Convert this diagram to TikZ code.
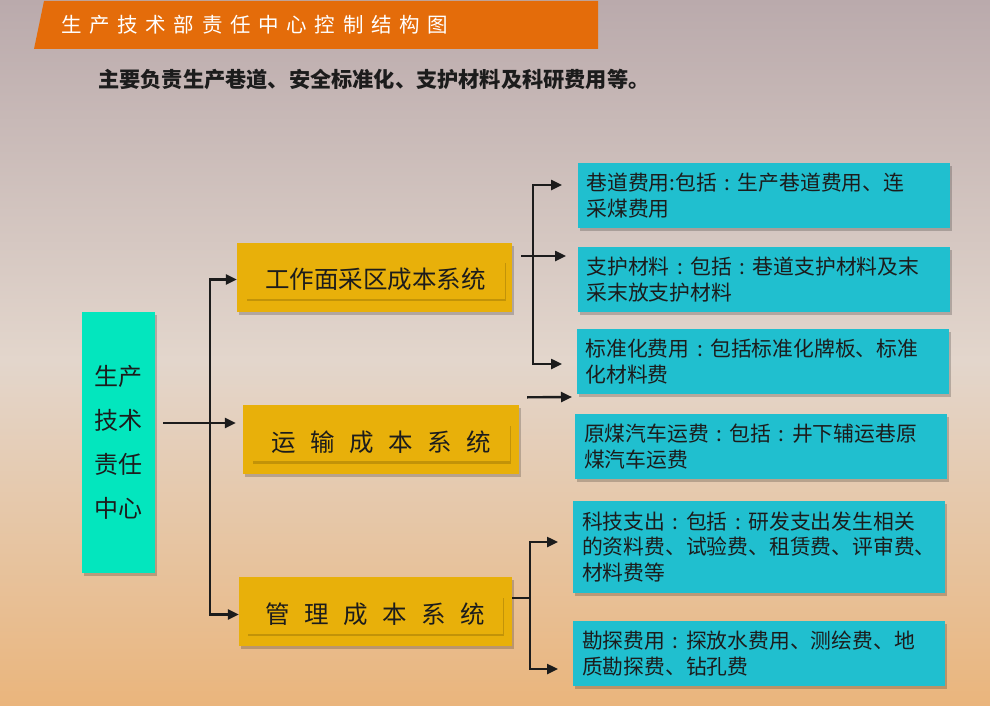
\documentclass[tikz,border=0pt]{standalone}
\usepackage{fontspec}
\setmainfont{Noto Sans CJK SC}
\usetikzlibrary{arrows.meta,shadows}
\definecolor{banner}{HTML}{E46C0A}
\definecolor{gold}{HTML}{E8B00A}
\definecolor{mint}{HTML}{03E6BE}
\definecolor{cyanbox}{HTML}{20BFCF}
\definecolor{ink}{HTML}{1C1C1C}
\definecolor{bgtop}{HTML}{BAAAAC}
\definecolor{bgmid}{HTML}{E3D6CC}
\definecolor{bgbot}{HTML}{EAB57C}
\newcommand\tg{\hspace{7.7pt}}
\newcommand\wg{\hspace{14.5pt}}
\newcommand\cln{\makebox[1em][c]{:}}
\begin{document}
\begin{tikzpicture}[x=1pt,y=-1pt,>={Triangle[length=11pt 0,width=10pt 0]},
  every node/.style={text=ink},
  link/.style={draw=ink,line width=2.4pt},
  boxshadow/.style={drop shadow={shadow xshift=2pt,shadow yshift=-3pt,opacity=.2,fill=black}},
  centrebox/.style={fill=mint,minimum width=73pt,minimum height=261pt,inner sep=0pt,align=center,boxshadow,font=\fontsize{24}{44}\selectfont},
  costbox/.style={fill=gold,minimum height=69pt,inner sep=0pt,boxshadow},
  costlabel/.style={fill=gold,minimum height=38pt,inner sep=0pt,drop shadow={shadow xshift=.5pt,shadow yshift=-2.5pt,opacity=.16,fill=black},font=\fontsize{24.5}{28}\selectfont},
  itembox/.style={fill=cyanbox,minimum height=65pt,text width=354pt,inner xsep=9pt,inner ysep=0pt,align=left,boxshadow,font=\fontsize{20.8}{25.5}\selectfont}]
\useasboundingbox (0,0) rectangle (990,706);
\fill [top color=bgtop,bottom color=bgmid] (0,0) rectangle (990,360);
\fill [top color=bgmid,bottom color=bgbot] (0,360) rectangle (990,706);
\fill [banner] (44,1) -- (598,1) -- (598,49) -- (34,49) -- cycle;
\node [anchor=west,inner sep=0pt,text=white,font=\fontsize{20.5}{24}\selectfont] (title) at (61,25) {生\tg 产\tg 技\tg 术\tg 部\tg 责\tg 任\tg 中\tg 心\tg 控\tg 制\tg 结\tg 构\tg 图};
\node [anchor=west,inner sep=0pt,font=\bfseries\fontsize{21.2}{24}\selectfont] (subtitle) at (98,79) {主要负责生产巷道、安全标准化、支护材料及科研费用等。};

\node [centrebox] (centre) at (118.5,442.5) {生产\\技术\\责任\\中心};

\node [costbox,minimum width=275pt] (work) at (374.5,277.5) {};
\node [costlabel,minimum width=259pt] (workt) at (375.5,279.5) {工作面采区成本系统};
\node [costbox,minimum width=276pt] (haul) at (381,439) {};
\node [costlabel,minimum width=258pt] (hault) at (381,442) {运\wg 输\wg 成\wg 本\wg 系\wg 统};
\node [costbox,minimum width=273pt] (admin) at (375.5,611.5) {};
\node [costlabel,minimum width=256pt] (admint) at (375,614.5) {管\wg 理\wg 成\wg 本\wg 系\wg 统};

\node [itembox] (roadway) at (763.5,195.5) {巷道费用:包括\cln 生产巷道费用、连\\采煤费用};
\node [itembox] (support) at (763.5,279.5) {支护材料\cln 包括\cln 巷道支护材料及末\\采末放支护材料};
\node [itembox] (standard) at (762.5,361.5) {标准化费用\cln 包括标准化牌板、标准\\化材料费};
\node [itembox] (coal) at (761,446.5) {原煤汽车运费\cln 包括\cln 井下辅运巷原\\煤汽车运费};
\node [itembox,minimum height=92pt] (research) at (759,547) {科技支出\cln 包括\cln 研发支出发生相关\\的资料费、试验费、租赁费、评审费、\\材料费等};
\node [itembox] (survey) at (759,653.5) {勘探费用\cln 探放水费用、测绘费、地\\质勘探费、钻孔费};

\coordinate (hubL) at (210,423);
\draw [link,<->] (work.west |- workt) -| (hubL) |- (admin.west |- admint);
\draw [link,->] ([xshift=8pt]centre.east |- hubL) -- ([xshift=-7pt]haul.west |- hubL);

\coordinate (hubA) at (533,256);
\coordinate (tipA1) at (562,185);
\coordinate (tipA2) at (566,256);
\coordinate (tipA3) at (562,364);
\draw [link,<->] (tipA1) -| (hubA) |- (tipA3);
\draw [link,->] ([xshift=9pt]work.east |- hubA) -- (tipA2);

\coordinate (tipB) at (572,397);
\draw [link,->] ([xshift=8pt,yshift=7pt]haul.north east) -- (tipB);

\coordinate (hubC) at (530,598);
\coordinate (tipC1) at (558,542);
\coordinate (tipC2) at (558,669);
\draw [link] (admin.east |- hubC) -- (hubC);
\draw [link,<->] (tipC1) -| (hubC) |- (tipC2);
\end{tikzpicture}
\end{document}
